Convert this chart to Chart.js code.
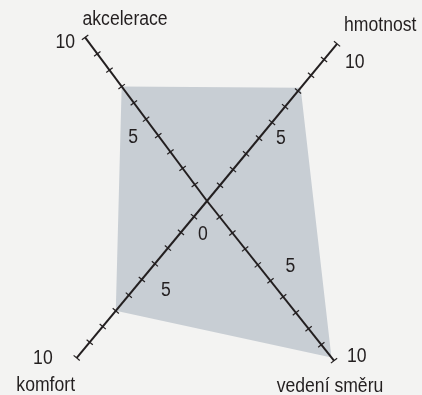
<!DOCTYPE html>
<html>
<head>
<meta charset="utf-8">
<script src="https://cdn.jsdelivr.net/npm/chart.js@4.4.0/dist/chart.umd.min.js"></script>
<style>
    html, body { margin: 0; padding: 0; width: 422px; height: 395px; overflow: hidden; background: #f3f3f2; }
    #wrap { position: absolute; left: -4px; top: -3px; width: 422px; height: 408px; }
</style>
</head>
<body>
<div id="wrap"><canvas id="radarChart"></canvas></div>
<script>
// data
const axisLabels = ['akcelerace', 'hmotnost', 'vedení směru', 'komfort'];
const values = [7, 7.2, 9.8, 7];
// spokes are not at 90 deg in the original, angle from top, clockwise
const axisAngles = [-36.7, 39.6, 141.5, 219.7];
const tickValues = [1, 2, 3, 4, 5, 6, 7, 8, 9, 10];
const scaleLabels = ['0', '5', '10'];

const ink = '#231f20';
const font = '20px "Liberation Sans", Arial, sans-serif';
const narrow = 0.88; // fake a narrow face, no condensed font here

// text offsets [dx, dy, align] relative to the spoke point
const nameOffsets = [[40, -12, 'center'], [7, -13, 'left'], [-4, 31, 'center'], [-31, 33, 'center']];
const tenOffsets = [[-10, 11, 'right'], [8, 24, 'left'], [13, 1, 'left'], [-24, 6, 'right']];
const fiveOffsets = [[-13, 24, 'center'], [9, 22, 'center'], [20, -9, 'center'], [24, 17, 'center']];
const zeroOffset = [-4, 39, 'center'];

const skewAxes = {
    id: 'skewAxes',
    afterLayout(chart) {
        chart.scales.r.getIndexAngle = i => axisAngles[i] * Math.PI / 180;
    },
    afterDraw(chart) {
        const r = chart.scales.r;
        const ctx = chart.ctx;
        ctx.save();
        ctx.strokeStyle = ink;
        ctx.lineWidth = 1.2;
        axisLabels.forEach((name, i) => {
            const c = r.getPointPositionForValue(i, 0);
            const e = r.getPointPositionForValue(i, r.max);
            const len = Math.hypot(e.x - c.x, e.y - c.y);
            const px = -(e.y - c.y) / len, py = (e.x - c.x) / len;
            tickValues.forEach(v => {
                const p = r.getPointPositionForValue(i, v);
                ctx.beginPath();
                ctx.moveTo(p.x - px * 4, p.y - py * 4);
                ctx.lineTo(p.x + px * 4, p.y + py * 4);
                ctx.stroke();
            });
        });

        ctx.fillStyle = ink;
        ctx.font = font;
        ctx.textBaseline = 'alphabetic';
        const put = (text, p, off) => {
            ctx.save();
            ctx.translate(p.x + off[0], p.y + off[1]);
            ctx.scale(narrow, 1);
            ctx.textAlign = off[2];
            ctx.fillText(text, 0, 0);
            ctx.restore();
        };
        axisLabels.forEach((name, i) => {
            const e = r.getPointPositionForValue(i, 10);
            put(name, e, nameOffsets[i]);
            put(scaleLabels[2], e, tenOffsets[i]);
            put(scaleLabels[1], r.getPointPositionForValue(i, 5), fiveOffsets[i]);
        });
        put(scaleLabels[0], r.getPointPositionForValue(0, 0), zeroOffset);
        ctx.restore();
    }
};

const ctx1 = document.getElementById('radarChart').getContext('2d');
const radarChart = new Chart(ctx1, {
    type: 'radar',
    data: {
        labels: axisLabels,
        datasets: [{
            data: values,
            backgroundColor: '#c8ced4',
            borderWidth: 0,
            pointRadius: 0,
            fill: true
        }]
    },
    options: {
        responsive: true,
        maintainAspectRatio: false,
        animation: false,
        plugins: {
            legend: { display: false },
            tooltip: { enabled: false }
        },
        scales: {
            r: {
                min: 0,
                max: 10,
                ticks: { display: false },
                grid: { display: false, z: 1 },
                angleLines: { display: true, color: ink, lineWidth: 2 },
                pointLabels: { display: false }
            }
        }
    },
    plugins: [skewAxes]
});
</script>
</body>
</html>
